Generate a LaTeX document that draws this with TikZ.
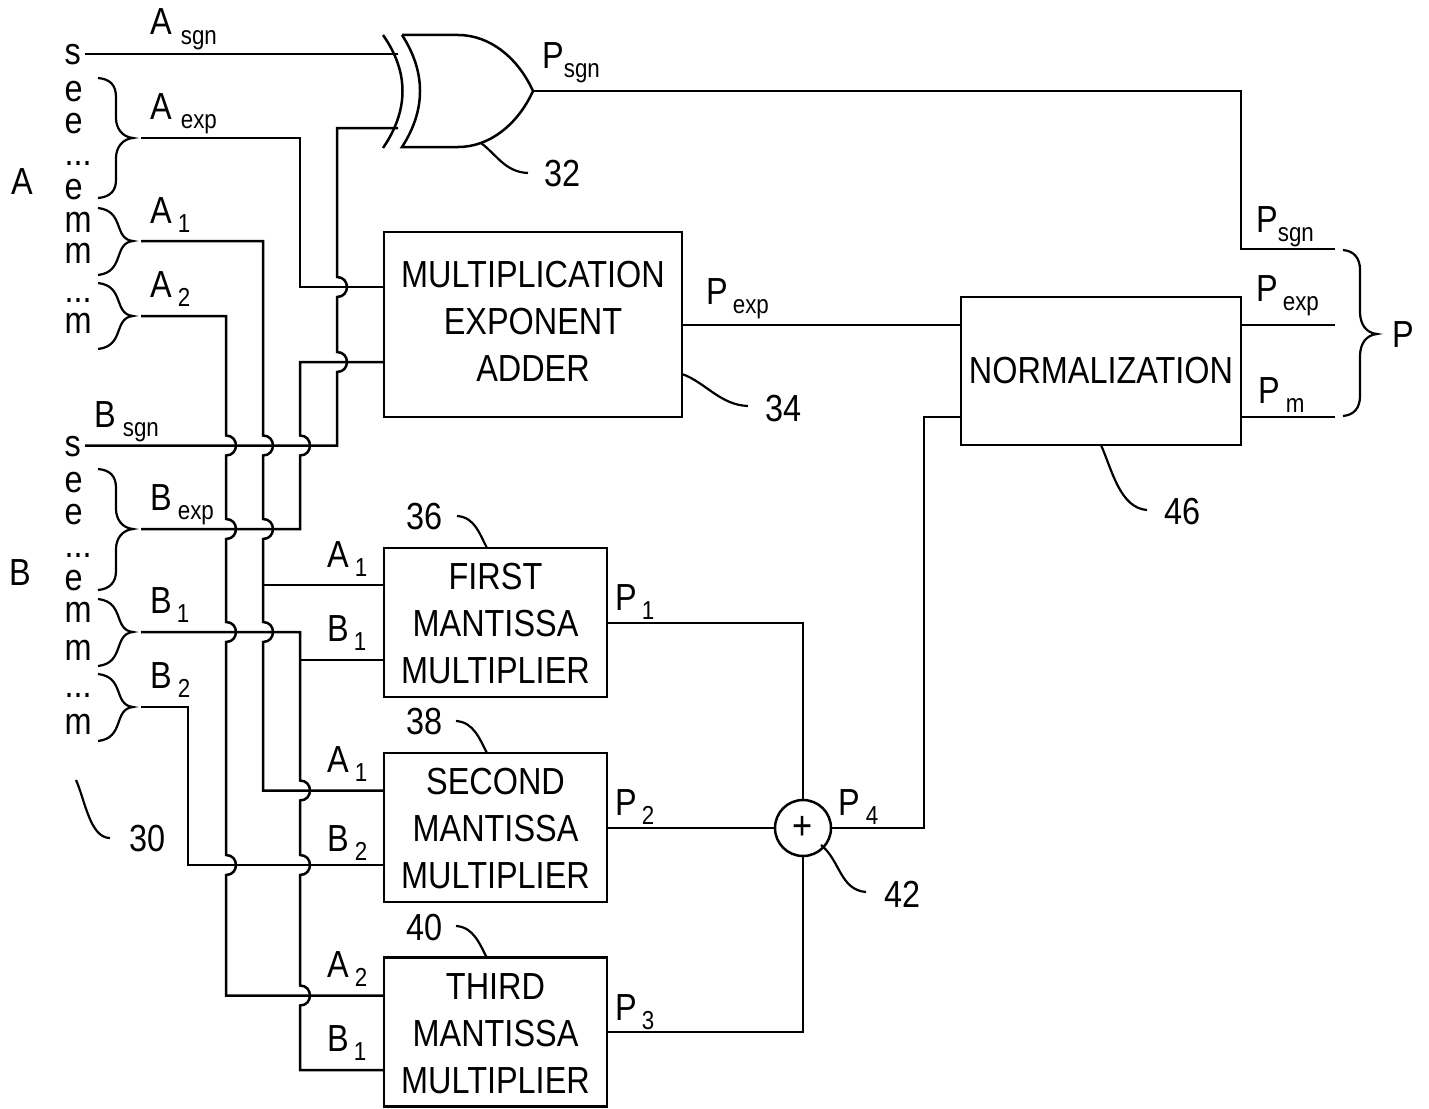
\documentclass[tikz,border=0pt]{standalone}
\usepackage{fontspec}
\setmainfont[FakeStretch=0.86]{Liberation Sans}
\newcommand{\sublab}[3]{#1\kern#2pt\raisebox{-9.5pt}{\fontsize{26}{26}\selectfont #3}}
\newcommand{\tl}{\rule{0pt}{28.5pt}}
\tikzset{
  wire/.style={line width=2.5pt,line join=miter},
  lead/.style={line width=2.2pt},
  hd/.style 2 args={insert path={-- (#1,#2-10) .. controls (#1+13.3,#2-10) and (#1+13.3,#2+10) .. (#1,#2+10)}},
  hu/.style 2 args={insert path={-- (#1,#2+10) .. controls (#1+13.3,#2+10) and (#1+13.3,#2-10) .. (#1,#2-10)}},
  txt/.style={inner sep=0pt,anchor=base west,font=\fontsize{37.7}{47}\selectfont},
  box/.style={draw,line width=2.5pt,inner sep=0pt,align=center,font=\fontsize{37.7}{47}\selectfont},
  mbox/.style={box,minimum width=223pt,minimum height=149pt},
}
\begin{document}
\begin{tikzpicture}[x=1pt,y=-1pt]
\useasboundingbox (0,0) rectangle (1429,1108);
% boxes
\node[box,minimum width=298pt,minimum height=185pt] (mult) at (533,324.5) {\raisebox{3.5pt}[\height][\depth]{\parbox{298pt}{\centering MULTIPLICATION\\EXPONENT\\ADDER}}};
\node[box,minimum width=280pt,minimum height=148pt] (norm) at (1101,371) {NORMALIZATION};
\node[mbox] (first) at (495.5,622.5) {\tl FIRST\\MANTISSA\\MULTIPLIER};
\node[mbox] (second) at (495.5,827.5) {\tl SECOND\\MANTISSA\\MULTIPLIER};
\node[mbox] (third) at (495.5,1032) {\tl THIRD\\MANTISSA\\MULTIPLIER};
\node[draw,circle,line width=2.5pt,minimum size=56pt,inner sep=0pt,font=\fontsize{40}{40}\selectfont] (sum) at (803,828) {+};
% XOR gate
\draw[wire] (383,35) .. controls (409,72) and (409,110) .. (383,148);
\draw[wire] (402,35) -- (458,35) .. controls (490,35) and (518,58) .. (533,91)
  .. controls (518,124) and (490,147) .. (458,147) -- (402,147)
  .. controls (426,110) and (426,72) .. (402,35);
\coordinate (xorA) at (398,54);
\coordinate (xorB) at (398,128);
\coordinate (xorO) at (533,91);
% source ends
\coordinate (as) at (85,54);
\coordinate (ae) at (141,138);
\coordinate (a1) at (141,241);
\coordinate (a2) at (141,316);
\coordinate (bs) at (85,445.5);
\coordinate (be) at (141,529);
\coordinate (b1) at (141,632);
\coordinate (b2) at (141,707);
\coordinate (pa) at (1335,249);
\coordinate (pb) at (1335,325);
\coordinate (pc) at (1335,417);
% wires
\draw[wire] (as) -- (xorA);
\draw[wire] (ae) -- (300,138) -- (300,287) -- (mult.west |- 0,287);
\draw[wire] (bs) -- (337,445.5) [hu={337}{362}] [hu={337}{287}] -- (337,128) -- (xorB);
\draw[wire] (be) -- (300,529) [hu={300}{445.5}] -- (300,362) -- (mult.west |- 0,362);
\draw[wire] (a1) -- (263,241) [hd={263}{445.5}] [hd={263}{529}] [hd={263}{632}] -- (263,790.5) -- (second.west |- 0,790.5);
\draw[wire] (263,585) -- (first.west |- 0,585);
\draw[wire] (a2) -- (226,316) [hd={226}{445.5}] [hd={226}{529}] [hd={226}{632}] [hd={226}{865}] -- (226,995.5) -- (third.west |- 0,995.5);
\draw[wire] (b1) -- (300,632) [hd={300}{790.5}] [hd={300}{865}] [hd={300}{995.5}] -- (300,1070) -- (third.west |- 0,1070);
\draw[wire] (300,660) -- (first.west |- 0,660);
\draw[wire] (b2) -- (188,707) -- (188,865) -- (second.west |- 0,865);
\draw[wire] (xorO) -- (1241,91) -- (1241,249) -- (pa);
\draw[wire] (mult.east |- 0,325) -- (norm.west |- 0,325);
\draw[wire] (norm.east |- 0,325) -- (pb);
\draw[wire] (norm.east |- 0,417) -- (pc);
\draw[wire] (first.east |- 0,623) -- (803,623) -- (sum.north);
\draw[wire] (second.east |- 0,828) -- (sum.west);
\draw[wire] (third.east |- 0,1032) -- (803,1032) -- (sum.south);
\draw[wire] (sum.east) -- (924,828) -- (924,417) -- (norm.west |- 0,417);
% braces
\tikzset{brl/.style={line width=2.2pt}}
\draw[brl] (98,78) .. controls (110,79) and (116,85) .. (116,97) -- (116,118) .. controls (116,128) and (122,137) .. (133,138)
  .. controls (122,139) and (116,148) .. (116,158) -- (116,180) .. controls (116,191) and (110,197) .. (98,198);
\draw[brl] (98,208) .. controls (125,211) and (113,239) .. (133,241) .. controls (113,243) and (125,272) .. (98,275);
\draw[brl] (98,283) .. controls (125,286) and (113,314) .. (133,316) .. controls (113,318) and (125,346) .. (98,349);
\draw[brl] (98,469) .. controls (110,470) and (116,476) .. (116,488) -- (116,509) .. controls (116,519) and (122,528) .. (133,529)
  .. controls (122,530) and (116,539) .. (116,549) -- (116,571) .. controls (116,582) and (110,589) .. (98,590);
\draw[brl] (98,599) .. controls (125,602) and (113,630) .. (133,632) .. controls (113,634) and (125,663) .. (98,666);
\draw[brl] (98,674) .. controls (125,677) and (113,705) .. (133,707) .. controls (113,709) and (125,738) .. (98,741);
\draw[brl] (1343,250) .. controls (1354,251) and (1360,258) .. (1360,270) -- (1360,312) .. controls (1360,324) and (1366,333) .. (1377,334)
  .. controls (1366,335) and (1360,344) .. (1360,356) -- (1360,396) .. controls (1360,408) and (1354,415) .. (1343,416);
% leaders
\draw[lead] (481,143) .. controls (497,155) and (505,172) .. (528,173);
\draw[lead] (682,374) .. controls (705,382) and (720,405) .. (748,406);
\draw[lead] (1101,445) .. controls (1112,470) and (1120,508) .. (1147,510);
\draw[lead] (821,845) .. controls (840,860) and (840,890) .. (866,892);
\draw[lead] (457,516) .. controls (475,517) and (480,535) .. (487,548);
\draw[lead] (456,721) .. controls (474,722) and (480,740) .. (487,753);
\draw[lead] (456,926) .. controls (474,927) and (480,945) .. (487,958);
\draw[lead] (76,780) .. controls (85,800) and (90,838) .. (110,838);
% left letters
\node[txt] (t1) at (64.5,65) {s};
\node[txt] (t2) at (64.5,101) {e};
\node[txt] (t3) at (64.5,133) {e};
\node[txt] (t4) at (64.5,165) {...};
\node[txt] (t5) at (64.5,199) {e};
\node[txt] (t6) at (64.5,232) {m};
\node[txt] (t7) at (64.5,263) {m};
\node[txt] (t8) at (64.5,302) {...};
\node[txt] (t9) at (64.5,333) {m};
\node[txt] (u1) at (64.5,456) {s};
\node[txt] (u2) at (64.5,492) {e};
\node[txt] (u3) at (64.5,524) {e};
\node[txt] (u4) at (64.5,557) {...};
\node[txt] (u5) at (64.5,590) {e};
\node[txt] (u6) at (64.5,622) {m};
\node[txt] (u7) at (64.5,660) {m};
\node[txt] (u8) at (64.5,697) {...};
\node[txt] (u9) at (64.5,734) {m};
\node[txt] (lA) at (11,194) {A};
\node[txt] (lB) at (9,585) {B};
% signal labels
\node[txt] (n1) at (150,35) {\sublab{A}{9}{sgn}};
\node[txt] (n2) at (150,119) {\sublab{A}{9}{exp}};
\node[txt] (n3) at (150,223) {\sublab{A}{6}{1}};
\node[txt] (n4) at (150,297) {\sublab{A}{6}{2}};
\node[txt] (n5) at (94,427) {\sublab{B}{7}{sgn}};
\node[txt] (n6) at (150,510) {\sublab{B}{6}{exp}};
\node[txt] (n7) at (150,613) {\sublab{B}{5}{1}};
\node[txt] (n8) at (150,688) {\sublab{B}{6}{2}};
\node[txt] (n9) at (327,567) {\sublab{A}{6}{1}};
\node[txt] (n10) at (327,641) {\sublab{B}{5}{1}};
\node[txt] (n11) at (327,772) {\sublab{A}{6}{1}};
\node[txt] (n12) at (327,851) {\sublab{B}{6}{2}};
\node[txt] (n13) at (327,977) {\sublab{A}{6}{2}};
\node[txt] (n14) at (327,1051) {\sublab{B}{5}{1}};
\node[txt] (n15) at (542,68) {\sublab{P}{0}{sgn}};
\node[txt] (n16) at (706,304) {\sublab{P}{5}{exp}};
\node[txt] (n17) at (615,610) {\sublab{P}{5}{1}};
\node[txt] (n18) at (615,815) {\sublab{P}{5}{2}};
\node[txt] (n19) at (615,1020) {\sublab{P}{5}{3}};
\node[txt] (n20) at (838,815) {\sublab{P}{6}{4}};
\node[txt] (n21) at (1256,232) {\sublab{P}{0}{sgn}};
\node[txt] (n22) at (1256,301) {\sublab{P}{5}{exp}};
\node[txt] (n23) at (1258,403) {\sublab{P}{6}{m}};
\node[txt] (n24) at (1392,347) {P};
% reference numbers
\node[txt] (r32) at (544,186.5) {32};
\node[txt] (r34) at (765,421) {34};
\node[txt] (r36) at (406,529) {36};
\node[txt] (r38) at (406,734) {38};
\node[txt] (r40) at (406,940) {40};
\node[txt] (r42) at (884,907) {42};
\node[txt] (r46) at (1164,524) {46};
\node[txt] (r30) at (129,851) {30};
\end{tikzpicture}
\end{document}
